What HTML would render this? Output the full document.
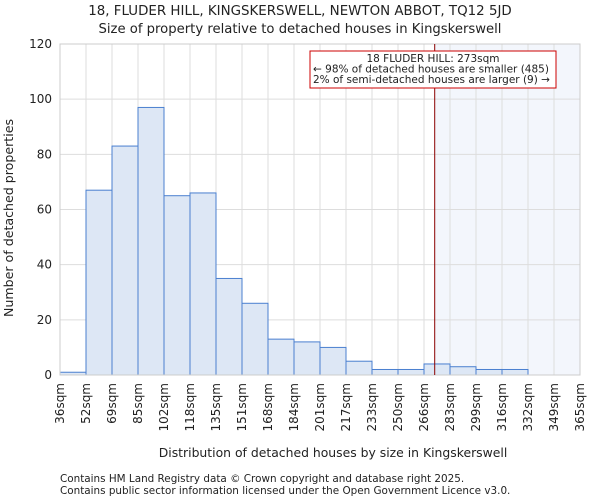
<!DOCTYPE html>
<html><head><meta charset="utf-8"><style>
body{margin:0;background:#fff;font-family:"DejaVu Sans","Liberation Sans",sans-serif}
svg text{font-family:"DejaVu Sans","Liberation Sans",sans-serif;fill:#222}
</style></head><body>
<svg id="c" width="600" height="500">
<text x="300" y="15" font-size="13.4" text-anchor="middle">18, FLUDER HILL, KINGSKERSWELL, NEWTON ABBOT, TQ12 5JD</text>
<text x="300" y="33" font-size="13.2" text-anchor="middle">Size of property relative to detached houses in Kingskerswell</text>
<text x="0" y="0" font-size="12.6" text-anchor="middle" transform="translate(13,218) rotate(-90)">Number of detached properties</text>
<text x="333" y="457" font-size="12.4" text-anchor="middle">Distribution of detached houses by size in Kingskerswell</text>
<text x="60" y="482" font-size="10.4">Contains HM Land Registry data © Crown copyright and database right 2025.</text>
<text x="60" y="494" font-size="10.4">Contains public sector information licensed under the Open Government Licence v3.0.</text>
</svg>
<script>
const tickLabels=["36sqm","52sqm","69sqm","85sqm","102sqm","118sqm","135sqm","151sqm","168sqm","184sqm","201sqm","217sqm","233sqm","250sqm","266sqm","283sqm","299sqm","316sqm","332sqm","349sqm","365sqm"];
const counts=[1,67,83,97,65,66,35,26,13,12,10,5,2,2,4,3,2,2,0,0];
const yTicks=[0,20,40,60,80,100,120];
const subjectSize=273;
const ns="http://www.w3.org/2000/svg",svg=document.getElementById('c');
const L=60,R=580,T=44,B=375,n=counts.length,bw=(R-L)/n;
const x=i=>L+i*bw, y=v=>B-v*(B-T)/120;
function mk(t,a,p){const e=document.createElementNS(ns,t);for(const k in a)e.setAttribute(k,a[k]);(p||svg).appendChild(e);return e;}
let si=0;for(let i=0;i<n;i++){const a=parseFloat(tickLabels[i]),b=parseFloat(tickLabels[i+1]);if(subjectSize>=a&&subjectSize<=b){si=i+(subjectSize-a)/(b-a);}}
const sx=x(si);
const sh=mk('rect',{x:sx,y:T,width:R-sx,height:B-T,fill:'#f3f6fc'});


for(const v of yTicks){const g=mk('line',{x1:L,x2:R,y1:y(v),y2:y(v),stroke:'#ddd'});


const t=mk('text',{x:L-8,y:y(v)+4,'font-size':12,'text-anchor':'end'});t.textContent=v;

}
tickLabels.forEach((l,i)=>{const g=mk('line',{x1:x(i),x2:x(i),y1:T,y2:B,stroke:'#ddd'});


const t=mk('text',{x:0,y:0,'font-size':12,'text-anchor':'end',transform:`translate(${x(i)+4},${B+8}) rotate(-90)`});t.textContent=l;

});
counts.forEach((c,i)=>{const r=mk('rect',{x:x(i),y:y(c),width:bw,height:B-y(c),fill:'#dde7f5',stroke:'#4a7fcf','stroke-width':1});

});
const fr=mk('rect',{x:L,y:T,width:R-L,height:B-T,fill:'none',stroke:'#ccc'});


const ln=mk('line',{x1:sx,x2:sx,y1:T,y2:B,stroke:'#8b0000','stroke-width':1});


const g=mk('g',{});


mk('rect',{x:310,y:51,width:246,height:37,fill:'#fff',stroke:'#c00'},g);
[["18 FLUDER HILL: 273sqm",433,'middle'],["← 98% of detached houses are smaller (485)",313,'start'],["2% of semi-detached houses are larger (9) →",313,'start']].forEach((a,i)=>{const t=mk('text',{x:a[1],y:62+i*10.5,'font-size':10.5,'text-anchor':a[2]},g);t.textContent=a[0];});
</script>
</body></html>
